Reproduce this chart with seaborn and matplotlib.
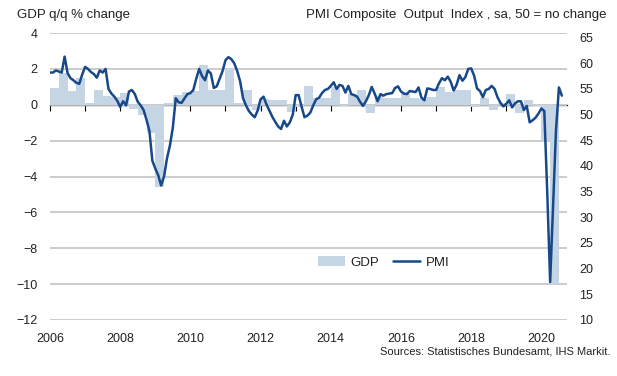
import numpy as np
import pandas as pd
import seaborn as sns
import matplotlib.pyplot as plt

# GDP q/q % change, quarterly from 2006 Q1
gdp = [
    0.93, 1.77, 0.74, 1.49,     # 2006
    0.10, 0.84, 0.50, 0.45,     # 2007
    0.65, -0.25, -0.55, -1.60,  # 2008
    -4.60, 0.10, 0.55, 0.70,    # 2009
    0.75, 2.20, 0.80, 0.80,     # 2010
    2.00, 0.10, 0.80, -0.30,    # 2011
    0.30, 0.25, 0.25, -0.40,    # 2012
    -0.10, 1.05, 0.40, 0.35,    # 2013
    1.00, -0.05, 0.60, 0.80,    # 2014
    -0.45, 0.50, 0.40, 0.40,    # 2015
    0.60, 0.40, 0.30, 0.45,     # 2016
    1.00, 0.70, 0.85, 0.85,     # 2017
    -0.15, 0.40, -0.30, 0.10,   # 2018
    0.60, -0.45, 0.28, -0.05,   # 2019
    -1.95, -10.0,               # 2020
]

# PMI composite output index, monthly from Jan 2006
pmi = [
    58.2, 58.2, 58.6, 58.4, 58.2, 61.3, 58.1, 57.1, 56.7, 56.2, 56.0, 57.8,  # 2006
    59.3, 58.9, 58.3, 57.9, 57.2, 58.6, 58.2, 58.9, 55.0, 54.1, 53.5, 52.7,  # 2007
    51.5, 52.6, 51.8, 54.5, 54.8, 54.0, 52.5, 51.8, 50.9, 49.0, 46.8, 41.0,  # 2008
    39.5, 38.2, 36.2, 38.0, 41.5, 44.0, 47.5, 53.2, 52.4, 52.3, 53.2, 54.0,  # 2009
    54.2, 54.8, 57.0, 58.9, 57.5, 56.7, 58.6, 58.0, 55.2, 55.5, 57.0, 58.5,  # 2010
    60.6, 61.2, 60.8, 60.0, 58.5, 56.5, 53.2, 51.8, 50.7, 50.0, 49.5, 50.8,  # 2011
    53.0, 53.5, 52.0, 50.8, 49.6, 48.6, 47.7, 47.2, 48.8, 47.7, 48.5, 50.0,  # 2012
    53.8, 53.8, 51.6, 49.5, 49.8, 50.4, 51.8, 53.0, 53.3, 54.2, 54.8, 55.0,  # 2013
    55.6, 56.3, 55.0, 55.8, 55.6, 54.3, 55.6, 54.0, 53.8, 53.5, 52.5, 51.7,  # 2014
    52.6, 53.8, 55.4, 54.1, 52.6, 54.0, 53.7, 54.0, 54.1, 54.2, 55.2, 55.5,  # 2015
    54.5, 54.1, 54.0, 54.6, 54.5, 54.4, 55.3, 53.3, 52.8, 55.1, 55.0, 54.8,  # 2016
    54.8, 56.1, 57.1, 56.7, 57.4, 56.4, 54.7, 55.8, 57.7, 56.6, 57.3, 58.9,  # 2017
    59.0, 57.6, 55.1, 54.6, 53.4, 54.8, 55.0, 55.6, 55.0, 53.4, 52.3, 51.6,  # 2018
    52.1, 52.8, 51.4, 52.2, 52.6, 52.6, 50.9, 51.7, 48.5, 48.9, 49.4, 50.2,  # 2019
    51.2, 50.7, 35.0, 17.4, 32.3, 47.0, 55.3, 53.7,                          # 2020
]

year_labels = ['2006', '2008', '2010', '2012', '2014', '2016', '2018', '2020']

bar_c = '#c6d5e4'
line_c = '#17498a'
txt_c = '#222222'
grid_c = '#c8c8c8'

sns.set_theme(style='white')
plt.rcParams['font.family'] = ['Liberation Sans', 'DejaVu Sans']

gdp_df = pd.DataFrame({'x': 2006 + 0.25 * np.arange(len(gdp)) + 0.125, 'gdp': gdp})
pmi_df = pd.DataFrame({'x': 2006 + np.arange(len(pmi)) / 12, 'pmi': pmi})

fig, ax = plt.subplots(figsize=(6.17, 3.76), dpi=100)
fig.subplots_adjust(left=50 / 617, right=567 / 617, top=1 - 33 / 376, bottom=1 - 320 / 376)

# GDP bars on the left axis
sns.barplot(data=gdp_df, x='x', y='gdp', native_scale=True, orient='x', width=1.0,
            color=bar_c, saturation=1, errorbar=None, linewidth=0, ax=ax, label='GDP')
ax.set_xlim(2006, 2020.73)
ax.set_ylim(-12, 4)
ax.set_yticks(range(-12, 5, 2))
ax.set_xticks([int(y) for y in year_labels])
ax.set_xticklabels(year_labels)
ax.tick_params(axis='x', length=0, pad=9, labelsize=9, labelcolor=txt_c)
ax.tick_params(axis='y', length=0, pad=9, labelsize=9, labelcolor=txt_c)
ax.set_xlabel('')
ax.set_ylabel('')
for s in ax.spines.values():
    s.set_visible(False)
ax.yaxis.grid(True, color=grid_c, lw=1.3)
ax.xaxis.grid(False)
ax.set_axisbelow(True)

# zero line with yearly ticks
zero = ax.secondary_xaxis(0.75)
zero.set_xticks(range(2006, 2021))
zero.tick_params(direction='in', length=4, width=0.8, color='black', labeltop=False, labelbottom=False)
for s in zero.spines.values():
    s.set_color('black')
    s.set_linewidth(0.9)

# PMI line on the right axis
ax2 = ax.twinx()
sns.lineplot(data=pmi_df, x='x', y='pmi', ax=ax2, color=line_c, lw=1.8, label='PMI')
ax2.set_ylim(10, 65.9)
ax2.set_yticks(range(10, 66, 5))
ax2.tick_params(axis='y', length=0, pad=9, labelsize=9, labelcolor=txt_c)
ax2.set_ylabel('')
ax2.set_xlabel('')
ax2.grid(False)
for s in ax2.spines.values():
    s.set_visible(False)

if ax.get_legend() is not None:
    ax.get_legend().remove()
h1, l1 = ax.get_legend_handles_labels()
h2, l2 = ax2.get_legend_handles_labels()
ax2.legend(h1 + h2, l1 + l2, loc='center left', bbox_to_anchor=(0.496, 0.2), ncol=2,
           frameon=False, fontsize=9.5, handlelength=2.05, handletextpad=0.4,
           columnspacing=1.05, labelcolor=txt_c)

fig.text(17 / 617, 1 - 15 / 376, 'GDP q/q % change', ha='left', va='center',
         fontsize=9.5, color=txt_c)
fig.text(606 / 617, 1 - 15 / 376, 'PMI Composite  Output  Index , sa, 50 = no change',
         ha='right', va='center', fontsize=9.5, color=txt_c)
fig.text(610 / 617, 1 - 351 / 376, 'Sources: Statistisches Bundesamt, IHS Markit.',
         ha='right', va='center', fontsize=8, color=txt_c)

fig.savefig('out.png', dpi=100)
